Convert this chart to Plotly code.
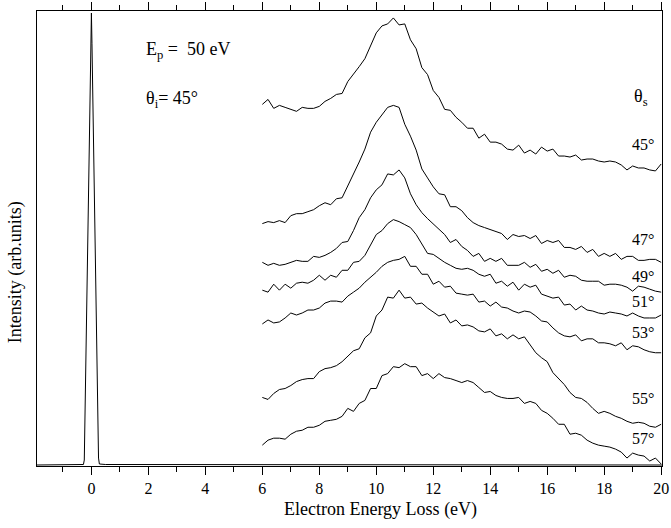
import numpy as np
import plotly.graph_objects as go

# Energy loss grid for the scattered spectra (eV)
energy = np.round(np.linspace(6.0, 20.0, 71), 1)

# Elastic peak
elastic_E = [-1.91, -0.5, -0.28, -0.25, -0.2, -0.15, -0.1, -0.05, -0.02, 0.0,
             0.02, 0.05, 0.1, 0.15, 0.2, 0.25, 0.28, 0.5, 20.03]
elastic_I = [1, 1, 1.5, 6, 95, 185, 275, 365, 425, 456,
             425, 365, 275, 185, 95, 8, 2, 1.5, 1]

# Spectra (arb. units, offset for display)
I45 = [364, 369, 360, 363, 361, 359, 357, 361, 360, 360, 362, 367, 370, 374, 375, 387, 394, 402, 410, 423,
       436, 443, 445, 451, 444, 445, 429, 420, 401, 394, 378, 371, 359, 358, 351, 346, 340, 340, 330, 334,
       326, 326, 324, 319, 318, 323, 315, 318, 314, 321, 317, 319, 312, 312, 311, 313, 308, 309, 309, 307,
       306, 307, 306, 303, 298, 302, 300, 300, 298, 297, 304]
I47 = [244, 246, 245, 247, 245, 252, 254, 254, 256, 258, 262, 265, 263, 269, 270, 282, 293, 306, 319, 336,
       346, 353, 361, 363, 361, 344, 332, 318, 299, 290, 281, 274, 273, 261, 261, 257, 250, 245, 242, 240,
       238, 236, 234, 228, 233, 231, 232, 229, 232, 224, 227, 225, 227, 220, 220, 218, 221, 215, 218, 211,
       214, 211, 214, 208, 211, 211, 207, 207, 208, 208, 205]
I49 = [205, 202, 204, 202, 203, 205, 207, 206, 206, 211, 210, 212, 215, 219, 225, 226, 237, 250, 258, 270,
       278, 283, 294, 293, 298, 290, 274, 263, 255, 249, 244, 239, 233, 225, 228, 221, 217, 211, 214, 206,
       209, 206, 209, 202, 202, 202, 205, 200, 203, 196, 198, 194, 197, 190, 192, 191, 187, 186, 186, 186,
       182, 183, 183, 182, 180, 176, 181, 180, 178, 176, 175]
I51 = [177, 175, 183, 177, 183, 179, 184, 185, 184, 187, 192, 187, 192, 190, 197, 197, 205, 206, 212, 222,
       233, 237, 244, 248, 246, 243, 240, 233, 224, 214, 213, 209, 205, 202, 199, 198, 199, 197, 193, 191,
       193, 184, 186, 181, 185, 177, 183, 180, 182, 173, 171, 169, 170, 162, 163, 157, 161, 157, 156, 154,
       153, 155, 154, 153, 151, 154, 151, 149, 149, 149, 152]
I53 = [143, 147, 144, 145, 149, 154, 152, 154, 157, 157, 159, 164, 166, 166, 165, 171, 175, 179, 185, 190,
       195, 201, 205, 207, 208, 211, 201, 201, 193, 193, 183, 186, 180, 181, 174, 173, 172, 173, 165, 166,
       161, 165, 160, 159, 156, 154, 156, 155, 151, 146, 145, 139, 134, 131, 130, 132, 126, 128, 128, 124,
       124, 123, 121, 124, 117, 121, 120, 117, 115, 114, 114]
I55 = [69, 67, 73, 77, 78, 81, 85, 87, 88, 88, 95, 98, 99, 101, 105, 110, 116, 118, 129, 134,
       151, 157, 170, 169, 177, 169, 170, 163, 164, 159, 155, 151, 153, 144, 147, 141, 142, 140, 136, 135,
       138, 131, 133, 128, 132, 128, 130, 122, 114, 109, 105, 94, 88, 82, 74, 69, 68, 64, 58, 53,
       55, 53, 50, 48, 45, 43, 44, 43, 40, 39, 42]
I57 = [21, 26, 28, 28, 27, 32, 35, 36, 39, 39, 41, 45, 46, 47, 50, 58, 55, 63, 66, 78,
       78, 91, 93, 100, 99, 103, 100, 100, 91, 93, 88, 93, 89, 88, 86, 84, 86, 84, 79, 74,
       75, 71, 69, 68, 68, 69, 63, 65, 63, 56, 53, 48, 42, 42, 32, 33, 31, 26, 23, 21,
       20, 19, 17, 14, 8, 13, 11, 10, 5, 8, 2]

spectra = [I45, I47, I49, I51, I53, I55, I57]
angle_labels = ["45°", "47°", "49°", "51°", "53°", "55°", "57°"]
label_y = [324, 228, 191, 166, 134, 68, 28]

FONT = "Liberation Serif"


def tf(size):
    return dict(family=FONT, size=size, color="black")


fig = go.Figure()
fig.add_trace(go.Scatter(x=elastic_E, y=elastic_I, mode="lines",
                         line=dict(color="black", width=1), showlegend=False))
for s in spectra:
    fig.add_trace(go.Scatter(x=energy, y=s, mode="lines",
                             line=dict(color="black", width=1), showlegend=False))

annotations = []
for lab, yv in zip(angle_labels, label_y):
    annotations.append(dict(x=19.83, y=yv, xref="x", yref="y", text=lab, showarrow=False,
                            xanchor="right", yanchor="middle", font=tf(16)))
annotations += [
    dict(x=1.84, y=418, xref="x", yref="y", text="E<sub>p</sub> =&nbsp; 50 eV", showarrow=False,
         xanchor="left", yanchor="middle", font=tf(18)),
    dict(x=1.84, y=369, xref="x", yref="y", text="θ<sub>i</sub>= 45°", showarrow=False,
         xanchor="left", yanchor="middle", font=tf(18)),
    dict(x=18.96, y=371, xref="x", yref="y", text="θ<sub>s</sub>", showarrow=False,
         xanchor="left", yanchor="middle", font=tf(18)),
    dict(x=0.549, y=-0.095, xref="paper", yref="paper", text="Electron Energy Loss (eV)",
         showarrow=False, xanchor="center", yanchor="middle", font=tf(18)),
    dict(x=-0.035, y=0.426, xref="paper", yref="paper", text="Intensity (arb.units)", textangle=-90,
         showarrow=False, xanchor="center", yanchor="middle", font=tf(18)),
]

fig.update_layout(
    width=671, height=528,
    margin=dict(l=37, r=2, t=8, b=62),
    paper_bgcolor="white", plot_bgcolor="white",
    font=tf(16),
    annotations=annotations,
    xaxis=dict(range=[-1.91, 20.03], tickmode="linear", tick0=0, dtick=2,
               ticks="outside", ticklen=8, tickwidth=1, tickcolor="black",
               minor=dict(dtick=1, ticks="outside", ticklen=5, tickwidth=1, tickcolor="black"),
               showline=True, linecolor="black", linewidth=1, mirror="allticks",
               showgrid=False, zeroline=False, tickfont=tf(16), ticklabeloverflow="allow"),
    yaxis=dict(range=[0, 458], showticklabels=False, ticks="", showline=True,
               linecolor="black", linewidth=1, mirror=True, showgrid=False, zeroline=False),
)
fig.write_html("out.html")
